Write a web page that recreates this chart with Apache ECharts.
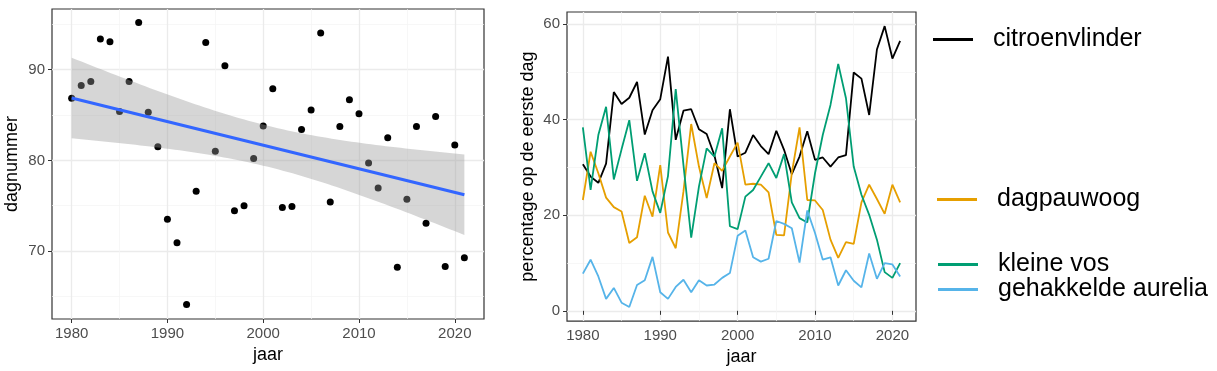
<!DOCTYPE html>
<html><head><meta charset="utf-8">
<script src="https://cdn.jsdelivr.net/npm/echarts@6/dist/echarts.min.js"></script>
<style>html,body{margin:0;padding:0;background:#fff}#c{width:1217px;height:371px}</style>
</head><body><div id="c"></div>
<script>
// ---------- data ----------
const years = [1980,1981,1982,1983,1984,1985,1986,1987,1988,1989,
               1990,1991,1992,1993,1994,1995,1996,1997,1998,1999,
               2000,2001,2002,2003,2004,2005,2006,2007,2008,2009,
               2010,2011,2012,2013,2014,2015,2016,2017,2018,2019,
               2020,2021];
const dagnummer = [86.85,88.25,88.7,93.4,93.1,85.4,88.7,95.2,85.3,81.5,
                   73.5,70.9,64.1,76.6,93.0,81.0,90.45,74.45,75.0,80.2,
                   83.8,87.9,74.8,74.9,83.4,85.55,94.05,75.4,83.75,86.7,
                   85.15,79.7,76.95,82.5,68.2,75.7,83.75,73.05,84.85,68.3,
                   81.7,69.25];
const citroenvlinder = [30.7,28.1,26.8,30.8,45.8,43.3,44.6,47.9,36.9,42.0,
                        44.3,53.2,35.8,41.9,42.2,38.0,37.0,32.5,25.7,42.2,
                        32.3,33.1,36.8,34.5,32.8,37.7,33.7,28.6,32.3,37.6,
                        31.6,32.1,30.2,32.1,32.6,49.9,48.6,41.0,54.7,59.6,
                        52.8,56.5];
const dagpauwoog = [23.2,33.3,28.8,23.7,21.7,20.8,14.2,15.4,24.1,19.7,
                    30.5,16.4,13.1,25.0,39.1,30.2,23.6,30.9,29.3,32.3,
                    35.2,26.4,26.6,26.4,24.8,15.9,15.8,28.8,38.4,23.2,
                    23.1,21.1,14.9,11.1,14.4,14.0,22.7,26.4,23.4,20.3,
                    26.4,22.7];
const kleineVos = [38.4,25.3,36.8,42.7,27.5,33.8,39.9,27.2,33.0,25.0,
                   20.5,28.2,46.4,30.5,15.3,26.0,34.0,32.3,38.2,17.7,
                   17.1,23.9,25.3,28.1,30.9,27.8,32.8,22.7,19.4,18.5,
                   28.8,36.8,43.1,51.7,44.5,30.2,24.3,20.1,14.9,8.1,
                   6.9,10.0];
const gehakkeldeAurelia = [7.8,10.7,7.2,2.5,4.8,1.7,0.8,5.4,6.4,11.3,
                           3.9,2.5,5.0,6.5,3.9,6.4,5.3,5.5,6.9,7.9,
                           15.7,16.8,11.2,10.3,10.9,18.8,18.2,17.3,10.1,21.0,
                           16.3,10.7,11.2,5.3,8.5,6.3,4.9,12.0,6.7,10.0,
                           9.7,7.2];
const seriesNames = ['citroenvlinder','dagpauwoog','kleine vos','gehakkelde aurelia'];
const seriesColors = ['#000000','#E69F00','#009E73','#56B4E9'];
const xTicks = [1980,1990,2000,2010,2020];
const xMinor = [1985,1995,2005,2015];
const leftYTicks = [70,80,90];
const leftYMinor = [65,75,85,95];
const rightYTicks = [0,20,40,60];
const rightYMinor = [10,30,50];

// ---------- linear fit with 95% confidence band (like geom_smooth(method='lm')) ----------
const n = years.length;
const mx = years.reduce((a,b)=>a+b,0)/n;
const my = dagnummer.reduce((a,b)=>a+b,0)/n;
let sxx=0, sxy=0;
for (let i=0;i<n;i++){ sxx += (years[i]-mx)**2; sxy += (years[i]-mx)*(dagnummer[i]-my); }
const b1 = sxy/sxx, b0 = my - b1*mx;
let sse=0;
for (let i=0;i<n;i++){ sse += (dagnummer[i]-(b0+b1*years[i]))**2; }
const s = Math.sqrt(sse/(n-2));
const tq = 2.0211; // qt(0.975, 40)
const band = [];
const x0 = years[0], x1 = years[n-1];
for (let k=0;k<=80;k++){
  const x = x0 + (x1-x0)*k/80;
  const f = b0 + b1*x;
  const se = s*Math.sqrt(1/n + (x-mx)**2/sxx);
  band.push([x, f - tq*se, f + tq*se]);
}
const fitLine = [[x0, b0+b1*x0],[x1, b0+b1*x1]];

// ---------- chart ----------
const FONT = 'Liberation Sans, Arial, Helvetica, sans-serif';
const tickColor = '#333333';
const labelColor = '#4D4D4D';
const majorGrid = {show:true, lineStyle:{color:'#EBEBEB', width:1.3}};
const minorGrid = {show:true, lineStyle:{color:'#F3F3F3', width:0.7}};
const plain = v => String(v);

function majorX(grid, nameGap){
  return {type:'value', gridIndex:grid, min:1977.95, max:2023.05,
    axisLine:{show:false},
    axisTick:{show:true, length:4, customValues:xTicks, lineStyle:{color:tickColor, width:1}},
    axisLabel:{customValues:xTicks, formatter:plain, fontSize:15, color:labelColor, margin:7, fontFamily:FONT},
    splitLine:majorGrid,
    name:'jaar', nameLocation:'middle', nameGap:nameGap,
    nameTextStyle:{fontSize:18, color:'#000', fontFamily:FONT}};
}
function minorX(grid){
  return {type:'value', gridIndex:grid, min:1977.95, max:2023.05,
    axisLine:{show:false}, axisTick:{show:false, customValues:xMinor},
    axisLabel:{show:false}, splitLine:minorGrid};
}
function majorY(grid, min, max, ticks, name, nameGap){
  return {type:'value', gridIndex:grid, min:min, max:max,
    axisLine:{show:false},
    axisTick:{show:true, length:4, customValues:ticks, lineStyle:{color:tickColor, width:1}},
    axisLabel:{customValues:ticks, formatter:plain, fontSize:15, color:labelColor, margin:7, fontFamily:FONT},
    splitLine:majorGrid,
    name:name, nameLocation:'middle', nameGap:nameGap, nameRotate:90,
    nameTextStyle:{fontSize:18, color:'#000', fontFamily:FONT}};
}
function minorY(grid, min, max, ticks){
  return {type:'value', gridIndex:grid, min:min, max:max,
    axisLine:{show:false}, axisTick:{show:false, customValues:ticks},
    axisLabel:{show:false}, splitLine:minorGrid};
}

const pairs = a => years.map((y,i)=>[y, a[i]]);
const lineData = [citroenvlinder, dagpauwoog, kleineVos, gehakkeldeAurelia];

const lineSeries = seriesNames.map((nm, i) => ({
  name:nm, type:'line', xAxisIndex:2, yAxisIndex:2, data:pairs(lineData[i]),
  showSymbol:false, symbol:'none', color:seriesColors[i],
  lineStyle:{color:seriesColors[i], width:1.8}, itemStyle:{color:seriesColors[i]},
  z:3+i
}));

function legendBox(names, left, top, gap){
  return {data:names, orient:'vertical', left:left, top:top, padding:0, itemGap:gap,
    icon:'rect', itemWidth:40, itemHeight:3, selectedMode:false,
    textStyle:{fontSize:25, color:'#000', fontFamily:FONT, lineHeight:22, padding:[0,0,0,15]}};
}

const option = {
  animation:false,
  backgroundColor:'#ffffff',
  textStyle:{fontFamily:FONT},
  grid:[
    {left:52, right:733, top:9, bottom:52, show:true, borderColor:'#333333', borderWidth:1.2, backgroundColor:'transparent'},
    {left:567, right:301, top:12, bottom:49, show:true, borderColor:'#333333', borderWidth:1.2, backgroundColor:'transparent'}
  ],
  xAxis:[majorX(0, 25), minorX(0), majorX(1, 26), minorX(1)],
  yAxis:[
    majorY(0, 62.5, 96.7, leftYTicks, 'dagnummer', 31),
    minorY(0, 62.5, 96.7, leftYMinor),
    majorY(1, -2.15, 62.55, rightYTicks, 'percentage op de eerste dag', 30),
    minorY(1, -2.15, 62.55, rightYMinor)
  ],
  legend:[
    legendBox(['citroenvlinder'], 933, 27, 0),
    legendBox(['dagpauwoog'], 937, 187, 0),
    legendBox(['kleine vos','gehakkelde aurelia'], 938, 252, 0)
  ],
  series:[
    {name:'dagnummer', type:'scatter', xAxisIndex:0, yAxisIndex:0, data:pairs(dagnummer),
     symbolSize:7, itemStyle:{color:'#000000', opacity:1}, z:2},
    {name:'band', type:'custom', xAxisIndex:0, yAxisIndex:0, data:band, z:3, silent:true,
     encode:{x:0, y:[1,2]},
     renderItem:function(params, api){
       if (params.dataIndex !== 0) return null;
       const pts = [];
       for (let k=0;k<band.length;k++) pts.push(api.coord([band[k][0], band[k][2]]));
       for (let k=band.length-1;k>=0;k--) pts.push(api.coord([band[k][0], band[k][1]]));
       return {type:'polygon', shape:{points:pts}, style:{fill:'rgba(153,153,153,0.4)'}};
     }},
    {name:'fit', type:'line', xAxisIndex:0, yAxisIndex:0, data:fitLine, symbol:'none',
     lineStyle:{color:'#3366FF', width:3}, itemStyle:{color:'#3366FF'}, z:4}
  ].concat(lineSeries)
};

const chart = echarts.init(document.getElementById('c'), null, {renderer:'canvas'});
chart.setOption(option);
</script>
</body></html>
